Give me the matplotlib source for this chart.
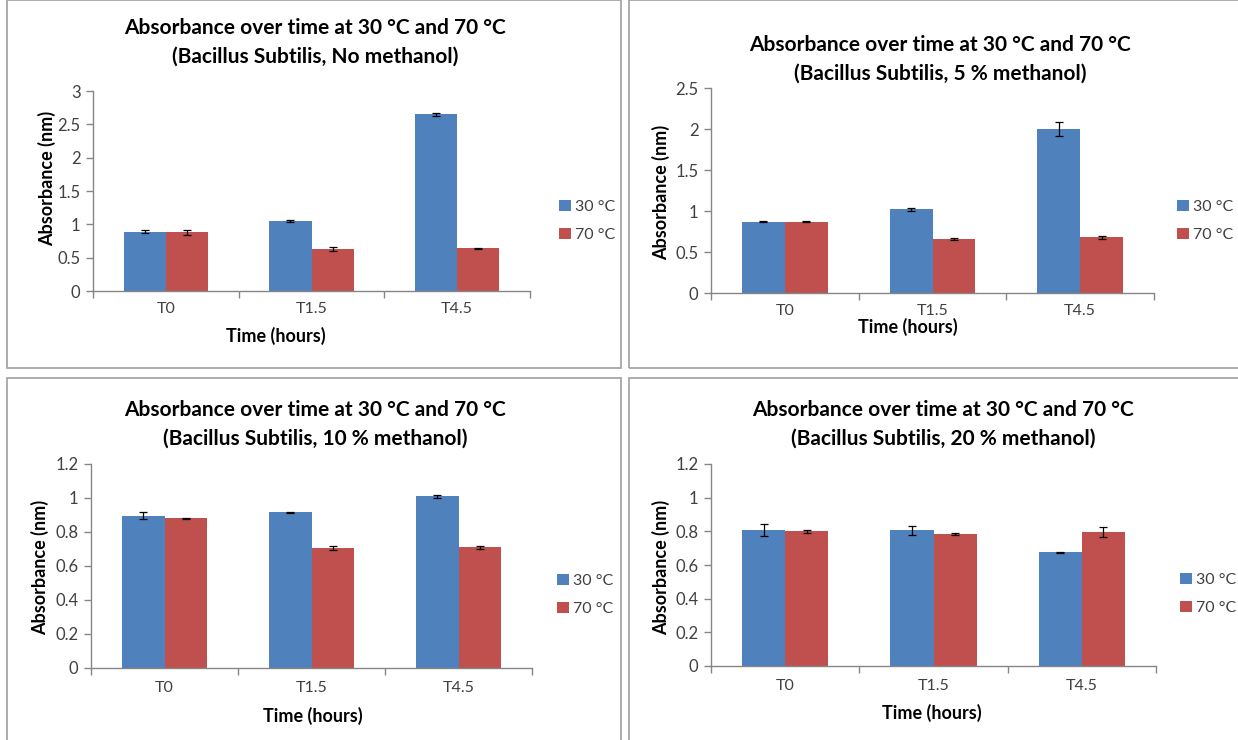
import numpy as np
import matplotlib
matplotlib.use('Agg')
import matplotlib.pyplot as plt
from matplotlib.patches import Rectangle

plt.rcParams['font.family'] = ['Lato', 'DejaVu Sans']

W, H = 1238, 740

times = ['T0', 'T1.5', 'T4.5']
series_names = ['30 °C', '70 °C']
conditions = ['No methanol', '5 % methanol', '10 % methanol', '20 % methanol']

# mean absorbance per panel
nometh_30 = [0.89, 1.05, 2.65]
nometh_70 = [0.88, 0.63, 0.64]
meth5_30 = [0.87, 1.02, 2.00]
meth5_70 = [0.87, 0.66, 0.68]
meth10_30 = [0.895, 0.915, 1.01]
meth10_70 = [0.88, 0.705, 0.71]
meth20_30 = [0.81, 0.805, 0.675]
meth20_70 = [0.80, 0.785, 0.795]

# error bars
nometh_30_err = [0.02, 0.01, 0.02]
nometh_70_err = [0.035, 0.03, 0.01]
meth5_30_err = [0.01, 0.02, 0.09]
meth5_70_err = [0.01, 0.01, 0.02]
meth10_30_err = [0.02, 0.003, 0.01]
meth10_70_err = [0.005, 0.01, 0.01]
meth20_30_err = [0.035, 0.025, 0.003]
meth20_70_err = [0.01, 0.006, 0.03]

y_max = [3, 2.5, 1.2, 1.2]
y_step = [0.5, 0.5, 0.2, 0.2]

blue = '#4F81BD'
red = '#C0504D'
axis_gray = '#868686'
txt = '#404040'

# panel layout in pixels
panels = [
    dict(ax=(93, 530, 91, 291), title=(315, 28), ylab=(47, 178), xlab=(276, 336), leg=(553, 221), tickpad=8),
    dict(ax=(711, 1154, 88, 293), title=(940, 45), ylab=(661, 192), xlab=(908, 327), leg=(1171, 221), tickpad=8),
    dict(ax=(91, 532, 464, 668), title=(315, 410), ylab=(40, 567), xlab=(313, 716), leg=(551, 595), tickpad=9),
    dict(ax=(711, 1156, 464, 666), title=(943, 410), ylab=(661, 567), xlab=(932, 713), leg=(1174, 594), tickpad=9),
]

data = [
    (nometh_30, nometh_70, nometh_30_err, nometh_70_err),
    (meth5_30, meth5_70, meth5_30_err, meth5_70_err),
    (meth10_30, meth10_70, meth10_30_err, meth10_70_err),
    (meth20_30, meth20_70, meth20_30_err, meth20_70_err),
]

fig = plt.figure(figsize=(W / 100, H / 100), dpi=100)
fig.patch.set_facecolor('white')

# panel frames
frames = [(7, 0, 621, 368), (629, 0, 1245, 368), (7, 378, 621, 745), (629, 378, 1245, 745)]
for x0, y0, x1, y1 in frames:
    fig.patches.append(Rectangle((x0 / W, 1 - y1 / H), (x1 - x0) / W, (y1 - y0) / H,
                                 transform=fig.transFigure, fill=False,
                                 edgecolor='#A6A6A6', linewidth=1.3, zorder=0))

x = np.arange(len(times))
bw = 0.29

for p, (v30, v70, e30, e70), cond, ymax, step in zip(panels, data, conditions, y_max, y_step):
    l, r, t, b = p['ax']
    ax = fig.add_axes([l / W, 1 - b / H, (r - l) / W, (b - t) / H])
    ax.bar(x - bw / 2, v30, bw, color=blue, label=series_names[0], zorder=2)
    ax.bar(x + bw / 2, v70, bw, color=red, label=series_names[1], zorder=2)
    ax.errorbar(x - bw / 2, v30, yerr=e30, fmt='none', ecolor='black', elinewidth=0.9, capsize=3, capthick=0.9, zorder=3)
    ax.errorbar(x + bw / 2, v70, yerr=e70, fmt='none', ecolor='black', elinewidth=0.9, capsize=3, capthick=0.9, zorder=3)

    ax.set_xlim(-0.5, 2.5)
    ax.set_ylim(0, ymax)
    yt = np.round(np.arange(0, ymax + step / 2, step), 2)
    ax.set_yticks(yt)
    ax.set_yticklabels(['%g' % v for v in yt])
    ax.set_xticks(x)
    ax.set_xticklabels(times)
    ax.set_xticks([-0.5, 0.5, 1.5, 2.5], minor=True)
    ax.tick_params(axis='x', which='major', length=0, pad=p['tickpad'], labelsize=11.5, labelcolor=txt)
    ax.tick_params(axis='x', which='minor', length=5, width=1, color=axis_gray)
    ax.tick_params(axis='y', length=5, width=1, color=axis_gray, labelsize=12, labelcolor=txt, pad=4)
    for s in ['top', 'right']:
        ax.spines[s].set_visible(False)
    for s in ['left', 'bottom']:
        ax.spines[s].set_color(axis_gray)
        ax.spines[s].set_linewidth(1)

    tx, ty = p['title']
    fig.text(tx / W, 1 - ty / H, 'Absorbance over time at 30 °C and 70 °C',
             ha='center', va='center', fontsize=15, fontweight='bold', color='black')
    fig.text(tx / W, 1 - (ty + 29) / H, '(Bacillus Subtilis, %s)' % cond,
             ha='center', va='center', fontsize=15, fontweight='bold', color='black')
    yx, yy = p['ylab']
    fig.text(yx / W, 1 - yy / H, 'Absorbance (nm)', rotation=90, ha='center', va='center',
             fontsize=13, fontweight='bold', color='black')
    xx, xy = p['xlab']
    fig.text(xx / W, 1 - xy / H, 'Time (hours)', ha='center', va='center',
             fontsize=13, fontweight='bold', color='black')
    lx, ly = p['leg']
    ax.legend(loc='center left', bbox_to_anchor=(lx / W, 1 - ly / H), bbox_transform=fig.transFigure,
              frameon=False, fontsize=11.5, handlelength=0.7, handleheight=0.7, handletextpad=0.3,
              labelspacing=0.9, borderaxespad=0, labelcolor=txt)

fig.savefig('out.png', dpi=100, facecolor='white')
